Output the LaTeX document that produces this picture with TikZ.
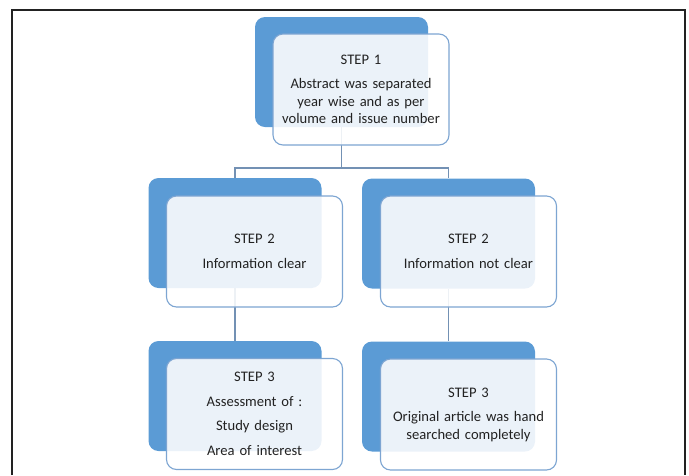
\documentclass[tikz,border=0pt]{standalone}
\usepackage{fontspec}
\setmainfont{Carlito}
\usetikzlibrary{positioning}
\definecolor{backblue}{RGB}{91,155,213}
\definecolor{edgeblue}{RGB}{125,165,210}
\definecolor{linkgray}{RGB}{115,145,180}
\definecolor{inkgray}{RGB}{34,34,34}

\begin{document}
\begin{tikzpicture}[x=1pt,y=-1pt,
  back/.style={rectangle, rounded corners=10pt, fill=backblue, minimum width=173pt, minimum height=110pt, inner sep=0pt},
  front/.style={rectangle, rounded corners=10pt, draw=edgeblue, line width=1.1pt, fill=white, fill opacity=0.88, text opacity=1, text=inkgray, minimum width=176pt, minimum height=111pt, text width=172pt, align=center, inner sep=0pt, font=\fontsize{14.6}{17.5}\selectfont},
  link/.style={draw=linkgray, line width=1.2pt}]
\useasboundingbox (0,0) rectangle (689,475);
% outer frame
\draw[line width=2.5pt, inkgray] (12,475) -- (12,10) -- (685,10) -- (685,475);
% back boxes
\node[back] (back1) at (341.5,72) {};
\node[back] (back2a) at (235,233) {};
\node[back] (back2b) at (448.5,233.5) {};
\node[back] (back3a) at (235,396) {};
\node[back] (back3b) at (448.5,396.5) {};
% connectors
\coordinate (split) at (341.5,168);
\draw[link] (back1.south) -- (split);
\draw[link] (back2a.north) |- (split) -| (back2b.north);
\draw[link] (back2a.south) -- (back3a.north);
\draw[link] (back2b.south) -- (back3b.north);
% front boxes
\node[front] (step1) at (361,89.5) {STEP 1\\[7pt]Abstract was separated\\year wise and as per\\volume and issue number};
\node[front] (step2a) at (254.5,251.5) {STEP 2\\[7pt]Information clear};
\node[front] (step2b) at (468.5,251.5) {STEP 2\\[7pt]Information not clear};
\node[front] (step3a) at (254.5,414) {STEP 3\\[7pt]Assessment of :\\[7pt]Study design\\[7pt]Area of interest};
\node[front] (step3b) at (468.5,414.5) {STEP 3\\[7pt]Original article was hand\\searched completely};
\end{tikzpicture}
\end{document}
